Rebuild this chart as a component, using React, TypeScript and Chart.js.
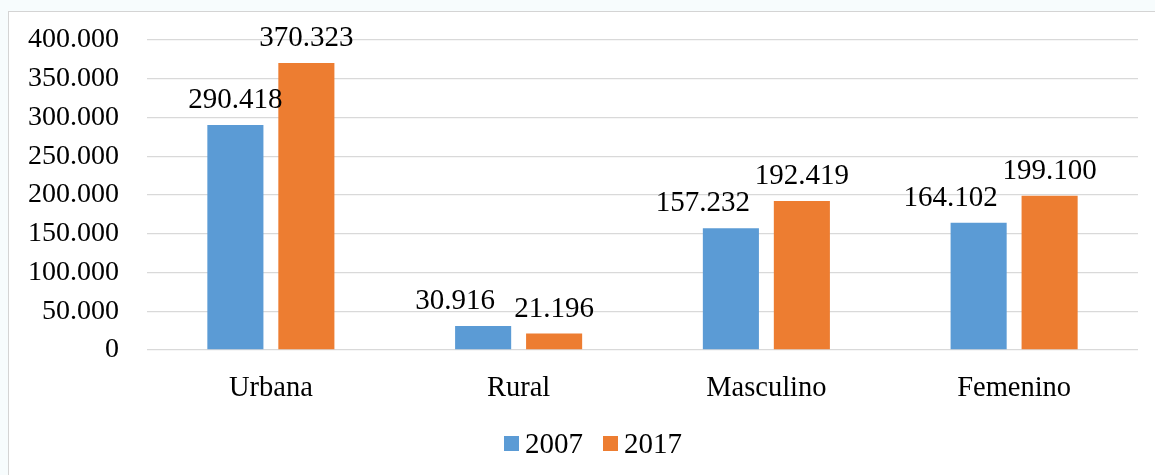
import React, { useEffect, useRef } from "react";
import { Chart, registerables } from "chart.js";

Chart.register(...registerables);

const categories = ["Urbana", "Rural", "Masculino", "Femenino"];
const seriesNames = ["2007", "2017"];
const values2007 = [290418, 30916, 157232, 164102];
const values2017 = [370323, 21196, 192419, 199100];
const seriesColors = ["#5B9BD5", "#ED7D31"];
const yMin = 0;
const yMax = 400000;
const yStep = 50000;

const FONT = '"Liberation Serif", "Times New Roman", serif';

function fmt(v: number): string {
  return Math.round(v)
    .toString()
    .replace(/\B(?=(\d{3})+(?!\d))/g, ".");
}

const barLabelPlugin = {
  id: "barLabels",
  afterDatasetsDraw(chart: any) {
    const ctx = chart.ctx;
    ctx.save();
    ctx.font = `29px ${FONT}`;
    ctx.fillStyle = "#000";
    ctx.textBaseline = "alphabetic";
    ctx.textAlign = "left";
    const metas = chart.data.datasets.map((_: any, i: number) => chart.getDatasetMeta(i));
    const n = chart.data.labels.length;
    for (let j = 0; j < n; j++) {
      const items = metas.map((m: any, i: number) => {
        const el = m.data[j];
        const text = fmt(chart.data.datasets[i].data[j]);
        const w = ctx.measureText(text).width;
        return { text, w, x: el.x - w / 2, y: el.y - 17, bw: el.width };
      });
      for (let k = items.length - 2; k >= 0; k--) {
        const a = items[k];
        const b = items[k + 1];
        const vOverlap = Math.abs(a.y - b.y) < 40;
        if (vOverlap && a.x + a.w > b.x) a.x -= a.bw / 2;
      }
      items.forEach((it: any) => ctx.fillText(it.text, it.x, it.y));
    }
    ctx.restore();
  },
};

export default function App() {
  const canvasRef = useRef<HTMLCanvasElement | null>(null);

  useEffect(() => {
    if (!canvasRef.current) return;
    const chart = new Chart(canvasRef.current, {
      type: "bar",
      data: {
        labels: categories,
        datasets: [
          {
            label: seriesNames[0],
            data: values2007,
            backgroundColor: seriesColors[0],
            categoryPercentage: 0.573,
            barPercentage: 0.79,
          },
          {
            label: seriesNames[1],
            data: values2017,
            backgroundColor: seriesColors[1],
            categoryPercentage: 0.573,
            barPercentage: 0.79,
          },
        ],
      },
      options: {
        responsive: false,
        animation: false,
        layout: { padding: { left: 0, right: 17, top: 40, bottom: 0 } },
        plugins: {
          legend: { display: false },
          tooltip: { enabled: false },
        },
        scales: {
          x: {
            grid: { display: false, drawTicks: false },
            border: { display: false },
            ticks: {
              color: "#000",
              font: { family: FONT, size: 28.5 },
              padding: 21,
              maxRotation: 0,
            },
            afterFit: (s: any) => {
              s.height = 125;
              s.paddingLeft = 0;
              s.paddingRight = 0;
            },
          },
          y: {
            min: yMin,
            max: yMax,
            grid: { color: "#d9d9d9", lineWidth: 1.3, drawTicks: false },
            border: { display: false },
            ticks: {
              stepSize: yStep,
              color: "#000",
              font: { family: FONT, size: 28 },
              padding: 28,
              callback: (v: any) => fmt(Number(v)),
            },
            afterFit: (s: any) => {
              s.width = 147;
              s.paddingTop = 0;
              s.paddingBottom = 0;
            },
          },
        },
      },
      plugins: [barLabelPlugin],
    });
    return () => chart.destroy();
  }, []);

  return (
    <div
      style={{
        position: "fixed",
        left: 0,
        top: 0,
        width: 1155,
        height: 475,
        background: "#f7fcfd",
        overflow: "hidden",
      }}
    >
      <div
        style={{
          position: "absolute",
          left: 8,
          top: 11,
          width: 1160,
          height: 480,
          background: "#fff",
          border: "1px solid #d4d4d4",
        }}
      />
      <canvas
        ref={canvasRef}
        width={1155}
        height={475}
        style={{ position: "absolute", left: 0, top: 0 }}
      />
      <div
        style={{
          position: "absolute",
          left: 504,
          top: 427,
          display: "flex",
          alignItems: "center",
          fontFamily: FONT,
          fontSize: 29,
          lineHeight: "32px",
          color: "#000",
          whiteSpace: "nowrap",
        }}
      >
        {seriesNames.map((name, i) => (
          <div key={name} style={{ display: "flex", alignItems: "center", marginRight: i === 0 ? 20 : 0 }}>
            <span
              style={{
                display: "inline-block",
                width: 15,
                height: 15,
                background: seriesColors[i],
                marginRight: 6,
              }}
            />
            <span>{name}</span>
          </div>
        ))}
      </div>
    </div>
  );
}
